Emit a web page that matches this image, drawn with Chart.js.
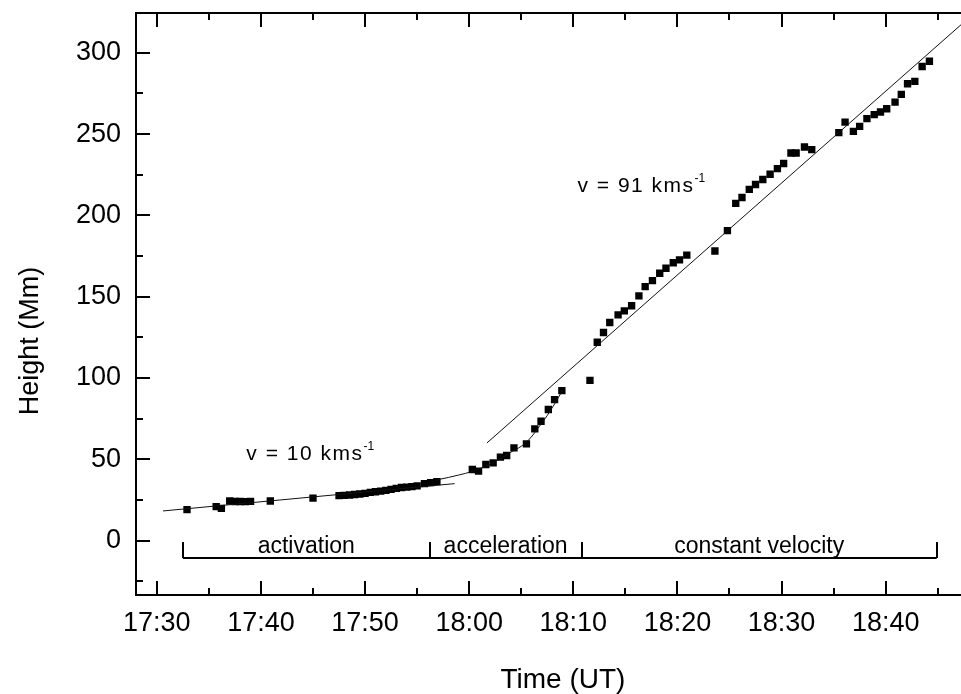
<!DOCTYPE html>
<html>
<head>
<meta charset="utf-8">
<script src="https://cdn.jsdelivr.net/npm/chart.js@4.4.1/dist/chart.umd.min.js"></script>
<style>
html,body{margin:0;padding:0;background:#fff;overflow:hidden;}
#c{display:block;}
</style>
</head>
<body>
<canvas id="c" width="995" height="694"></canvas>
<script>
// ===== Data (time = minutes after 17:00 UT, height in Mm) =====
const obsTime = [
  32.9, 35.7, 36.2, 37.0, 37.5, 38.0, 38.5, 39.0, 40.9, 45.0,
  47.5, 48.0, 48.5, 49.0, 49.5, 50.0, 50.5, 51.0, 51.5, 52.0,
  52.5, 53.0, 53.5, 54.0, 54.5, 55.0, 55.7, 56.3, 56.9,
  60.3, 60.9, 61.6, 62.3, 63.0, 63.6, 64.3, 65.5, 66.3, 66.9,
  67.6, 68.2, 68.9,
  71.6, 72.3, 72.9, 73.5, 74.3, 74.9, 75.6, 76.3, 76.9, 77.6,
  78.3, 78.9, 79.6, 80.2, 80.9, 83.6, 84.8, 85.6, 86.2, 86.9,
  87.5, 88.2, 88.9, 89.6, 90.2, 90.9, 91.4, 92.2, 92.9, 95.5,
  96.1, 96.9, 97.5, 98.2, 98.9, 99.5, 100.1, 100.9, 101.5, 102.1,
  102.8, 103.5, 104.2
];
const obsHeight = [
  19.0, 20.9, 19.8, 24.3, 24.0, 24.0, 23.9, 24.1, 24.3, 26.1,
  27.6, 27.8, 28.0, 28.3, 28.6, 29.0, 29.6, 30.0, 30.4, 30.9,
  31.5, 32.1, 32.6, 32.9, 33.2, 33.6, 35.0, 35.6, 36.2,
  43.7, 42.7, 46.8, 47.8, 51.3, 52.3, 57.0, 59.5, 68.7, 73.4,
  80.6, 86.7, 92.2,
  98.5, 122.0, 128.0, 134.1, 138.8, 141.3, 144.4, 150.5, 156.2, 159.9,
  164.4, 167.5, 170.9, 172.6, 175.6, 178.1, 190.6, 207.4, 211.0, 216.0,
  219.0, 222.1, 225.3, 228.8, 231.9, 238.4, 238.4, 242.1, 240.5, 250.9,
  257.4, 251.7, 254.8, 259.5, 262.0, 263.6, 265.6, 269.7, 274.4, 281.0,
  282.4, 291.6, 294.8
];

// fits
const slowFitTime = [30.6, 58.6];
const slowFitHeight = [18.2, 35.0];
const accelFitTime = [56.8, 58.0, 59.0, 60.3, 61.5, 62.5, 63.9, 65.0, 65.8, 66.75, 67.5, 68.2, 69.0];
const accelFitHeight = [37.2, 38.8, 40.3, 42.5, 45.5, 48.5, 54.0, 58.0, 62.5, 70.3, 77.0, 84.0, 92.8];
const fastFitTime = [61.7, 110];
const fastFitHeight = [60.0, 332.9];

// phases
const phaseNames = ["activation", "acceleration", "constant velocity"];
const phaseBounds = [32.5, 56.2, 70.8, 104.9];

// ticks
const xTicks = [30, 35, 40, 45, 50, 55, 60, 65, 70, 75, 80, 85, 90, 95, 100, 105];
const yTicks = [-25, 0, 25, 50, 75, 100, 125, 150, 175, 200, 225, 250, 275, 300];

const xMin = 28, xMax = 110;
const yMin = -33.5, yMax = 324.5;

const FONT = 'Arial, "Liberation Sans", sans-serif';

function fmtTime(v){
  const h = 17 + Math.floor(v / 60);
  const m = Math.round(v % 60);
  return h + ":" + (m < 10 ? "0" + m : m);
}
function pts(xs, ys){ return xs.map((x, i) => ({x: x, y: ys[i]})); }

// ===== Frame, inward ticks, labels =====
const framePlugin = {
  id: "frame",
  afterDatasetsDraw(chart){
    const ctx = chart.ctx, a = chart.chartArea;
    const sx = chart.scales.x, sy = chart.scales.y;
    ctx.save();
    ctx.strokeStyle = "#000";
    ctx.lineWidth = 2;
    ctx.strokeRect(a.left, a.top, a.right - a.left, a.bottom - a.top);
    ctx.beginPath();
    xTicks.concat([xMax]).forEach(v => {
      const px = Math.round(sx.getPixelForValue(v));
      const len = v % 10 === 0 ? 14 : 7;
      ctx.moveTo(px, a.bottom); ctx.lineTo(px, a.bottom - len);
      ctx.moveTo(px, a.top); ctx.lineTo(px, a.top + len);
    });
    yTicks.forEach(v => {
      const py = Math.round(sy.getPixelForValue(v));
      const len = v % 50 === 0 ? 14 : 7;
      ctx.moveTo(a.left, py); ctx.lineTo(a.left + len, py);
      ctx.moveTo(a.right, py); ctx.lineTo(a.right - len, py);
    });
    ctx.stroke();

    // phase bracket
    const by = Math.round(sy.getPixelForValue(-10.6));
    const bt = Math.round(sy.getPixelForValue(-0.9));
    ctx.beginPath();
    ctx.moveTo(sx.getPixelForValue(phaseBounds[0]), by);
    ctx.lineTo(sx.getPixelForValue(phaseBounds[phaseBounds.length - 1]), by);
    phaseBounds.forEach(b => {
      const px = Math.round(sx.getPixelForValue(b));
      ctx.moveTo(px, by); ctx.lineTo(px, bt);
    });
    ctx.stroke();

    ctx.fillStyle = "#000";
    ctx.textAlign = "center";
    ctx.textBaseline = "alphabetic";
    ctx.font = "23px " + FONT;
    const ly = sy.getPixelForValue(-7.5);
    phaseNames.forEach((n, i) => {
      const cx = (sx.getPixelForValue(phaseBounds[i]) + sx.getPixelForValue(phaseBounds[i + 1])) / 2;
      ctx.fillText(n, cx, ly);
    });

    // velocity labels
    function vLabel(txt, x, y){
      const px = sx.getPixelForValue(x), py = sy.getPixelForValue(y);
      ctx.textAlign = "left";
      ctx.font = "21px " + FONT;
      ctx.letterSpacing = "1.5px";
      ctx.fillText(txt, px, py);
      const w = ctx.measureText(txt).width;
      ctx.letterSpacing = "0px";
      ctx.font = "12px " + FONT;
      ctx.fillText("-1", px + w, py - 10);
    }
    vLabel("v = 10 kms", 38.6, 49.4);
    vLabel("v = 91 kms", 70.4, 214.5);

    // y title
    ctx.save();
    ctx.translate(31, 341);
    ctx.rotate(-Math.PI / 2);
    ctx.textAlign = "center";
    ctx.textBaseline = "middle";
    ctx.font = "27px " + FONT;
    ctx.fillText("Height (Mm)", 0, 0);
    ctx.restore();
    ctx.restore();
  }
};

new Chart(document.getElementById("c"), {
  type: "scatter",
  data: {
    datasets: [
      {label: "slow fit", type: "line", data: pts(slowFitTime, slowFitHeight),
        borderColor: "#111", borderWidth: 1, pointRadius: 0, fill: false},
      {label: "accel fit", type: "line", data: pts(accelFitTime, accelFitHeight),
        borderColor: "#111", borderWidth: 1, pointRadius: 0, fill: false, cubicInterpolationMode: "monotone"},
      {label: "fast fit", type: "line", data: pts(fastFitTime, fastFitHeight),
        borderColor: "#111", borderWidth: 1, pointRadius: 0, fill: false},
      {label: "height", data: pts(obsTime, obsHeight),
        pointStyle: "rect", pointRadius: 5.2, pointHoverRadius: 5.2,
        backgroundColor: "#000", borderWidth: 0}
    ]
  },
  options: {
    responsive: false,
    animation: false,
    devicePixelRatio: 1,
    layout: {padding: {top: 13, right: 4, left: 0, bottom: 0}},
    plugins: {legend: {display: false}, tooltip: {enabled: false}},
    scales: {
      x: {
        type: "linear", min: xMin, max: xMax,
        grid: {display: false, drawTicks: false}, border: {display: false},
        afterBuildTicks: s => { s.ticks = xTicks.map(v => ({value: v})); },
        ticks: {autoSkip: false, maxRotation: 0, padding: 12, color: "#000",
          font: {family: FONT, size: 27},
          callback: v => v % 10 === 0 ? fmtTime(v) : ""},
        title: {display: true, text: "Time (UT)", color: "#000",
          font: {family: FONT, size: 28, lineHeight: 1}, padding: 0},
        afterFit: s => { s.height = 99; s.paddingLeft = 0; s.paddingRight = 0; }
      },
      y: {
        min: yMin, max: yMax,
        grid: {display: false, drawTicks: false}, border: {display: false},
        afterBuildTicks: s => { s.ticks = yTicks.map(v => ({value: v})); },
        ticks: {autoSkip: false, padding: 15, color: "#000",
          font: {family: FONT, size: 27},
          callback: v => v % 50 === 0 ? v : ""},
        afterFit: s => { s.width = 136; s.paddingTop = 0; s.paddingBottom = 0; }
      }
    }
  },
  plugins: [framePlugin]
});
</script>
</body>
</html>
